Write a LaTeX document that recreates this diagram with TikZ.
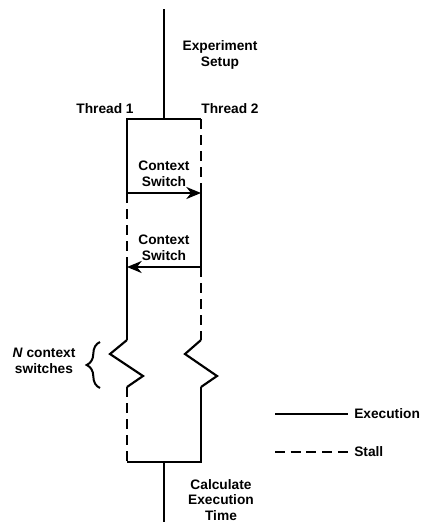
\documentclass[tikz,border=0pt]{standalone}
\usepackage{fontspec}
\setmainfont{Liberation Sans}
\usetikzlibrary{arrows.meta,decorations.pathreplacing}
\begin{document}
\begin{tikzpicture}[x=0.75pt,y=-0.75pt,
  exec/.style={line width=1.6pt},
  stall/.style={line width=1.6pt,dash pattern=on 7.5pt off 4.5pt},
  lbl/.style={font=\bfseries\fontsize{10.3}{11.6}\selectfont,align=center,inner sep=0pt},
  csarrow/.style={exec,-{Stealth[length=11pt,width=9pt,inset=3.5pt]}}]
\useasboundingbox (0,0) rectangle (421,522);
% coordinates
\coordinate (top) at (164,9);
\coordinate (tj) at (164,119);
\coordinate (a0) at (127,119); \coordinate (b0) at (201,119);
\coordinate (a1) at (127,193); \coordinate (b1) at (201,193);
\coordinate (a2) at (127,267); \coordinate (b2) at (201,267);
\coordinate (a3) at (127,340); \coordinate (b3) at (201,340);
\coordinate (az1) at (110,354); \coordinate (bz1) at (185,354);
\coordinate (az2) at (143,376); \coordinate (bz2) at (217,376);
\coordinate (a4) at (127,387); \coordinate (b4) at (201,387);
\coordinate (a5) at (127,462); \coordinate (b5) at (201,462);
\coordinate (bj) at (164,462); \coordinate (bot) at (164,522);
\coordinate (br1) at (100,388); \coordinate (br2) at (100,342);
\coordinate (l1a) at (275,414); \coordinate (l1b) at (348,414);
\coordinate (l2a) at (275,452); \coordinate (l2b) at (348,452);
% labels
\node[lbl] (setup) at (220,55) {Experiment\\Setup};
\node[lbl] (t1) at (105,109) {Thread 1};
\node[lbl] (t2) at (230,109) {Thread 2};
\node[lbl] (cs1) at (164,174) {Context\\Switch};
\node[lbl] (cs2) at (164,248) {Context\\Switch};
\node[lbl] (nctx) at (44,361) {\textit{N} context\\switches};
\node[lbl] (calc) at (221,500) {Calculate\\Execution\\Time};
\node[lbl,anchor=west] (lexec) at (354,414) {Execution};
\node[lbl,anchor=west] (lstall) at (354,452) {Stall};
% top
\draw[exec] (top) -- (tj);
\draw[exec] (a1) -- (a0) -- (b0);
\draw[stall] (b0) -- (b1);
\draw[csarrow] (a1) -- (b1);
% second segment
\draw[stall] (a1) -- (a2);
\draw[exec] (b1) -- (b2);
\draw[csarrow] (b2) -- (a2);
% third segment
\draw[exec] (a2) -- (a3);
\draw[stall] (b2) -- (b3);
% zigzags
\draw[exec,line join=miter] (a3) -- (az1) -- (az2) -- (a4);
\draw[exec,line join=miter] (b3) -- (bz1) -- (bz2) -- (b4);
% bottom
\draw[stall] (a4) -- (a5);
\draw[exec] (a5) -- (b5) -- (b4);
\draw[exec] (bj) -- (bot);
% brace
\draw[line width=1.5pt,decorate,decoration={brace,amplitude=10pt}] (br1) -- (br2);
% legend
\draw[exec] (l1a) -- (l1b);
\draw[line width=1.6pt,dash pattern=on 7.5pt off 4.3pt] (l2a) -- (l2b);
\end{tikzpicture}
\end{document}
